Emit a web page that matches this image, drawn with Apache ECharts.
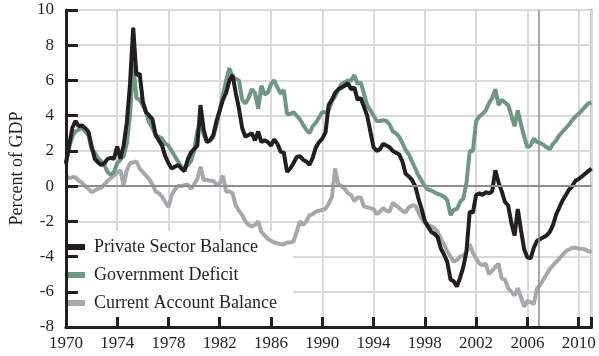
<!DOCTYPE html>
<html><head><meta charset="utf-8">
<script src="https://cdn.jsdelivr.net/npm/echarts/dist/echarts.min.js"></script>
<style>html,body{margin:0;padding:0;background:#fff}#c{width:599px;height:356px}</style>
</head><body><div id="c"></div>
<script>
// Quarterly observations starting 1970 Q1
const startYear = 1970;
const stepYears = 0.25;
const seriesNames = ['Private Sector Balance', 'Government Deficit', 'Current Account Balance'];
const privateSector = [
  1.3, 2.3, 3.3, 3.7,   3.4, 3.45, 3.3, 3.1,   2.3, 1.55, 1.35, 1.2,   1.3, 1.55, 1.6, 1.55,
  2.25, 1.55, 2.3, 3.6,   5.8, 9.0, 6.3, 6.4,   4.8, 4.2, 4.0, 3.8,   2.9, 2.6, 2.3, 1.7,
  1.3, 1.0, 1.1, 1.2,   1.0, 0.85, 1.5, 1.9,   2.1, 2.3, 4.6, 3.2,   2.5, 2.6, 2.9, 3.7,
  4.3, 4.9, 5.3, 6.0,   6.3, 5.3, 4.4, 3.3,   2.8, 2.9, 3.0, 2.6,   3.1, 2.5, 2.6, 2.5,
  2.3, 2.65, 2.4, 1.95,   1.9, 0.8, 1.0, 1.3,   1.65, 1.7, 1.5, 1.4,   1.2, 1.6, 2.2, 2.5,
  2.7, 3.05, 4.6, 4.9,   5.3, 5.5, 5.6, 5.7,   5.85, 5.5, 5.6, 4.9,   5.0, 4.5, 4.0, 3.1,
  2.2, 2.0, 2.1, 2.4,   2.3, 2.2, 2.0, 1.9,   1.8, 1.4, 0.7, 0.55,   0.35, 0.0, -0.7, -1.3,
  -2.0, -2.3, -2.6, -2.7,   -2.9, -3.55, -3.9, -4.3,   -5.3, -5.4, -5.7, -5.2,   -4.6, -3.7, -1.45, -1.5,
  -0.5, -0.4, -0.5, -0.35,   -0.4, -0.3, 0.9, 0.2,   -0.3, -0.9, -1.1, -2.1,   -2.8, -1.3, -2.5, -3.6,
  -4.05, -4.1, -3.5, -3.1,   -3.0, -2.9, -2.8, -2.6,   -2.2, -1.6, -1.2, -0.8,   -0.5, -0.2, 0.0, 0.3,
  0.4, 0.55, 0.7, 0.85,   1.0
];
const governmentDeficit = [
  1.2, 2.2, 2.8, 3.1,   3.2, 3.3, 3.1, 2.9,   2.1, 1.9, 1.6, 1.4,   1.2, 0.8, 0.65, 0.8,
  1.3, 1.5, 1.7, 2.4,   4.0, 7.0, 5.0, 4.9,   4.6, 4.2, 3.6, 3.3,   2.9, 2.8, 2.7, 2.4,
  2.3, 2.0, 1.7, 1.4,   1.1, 1.0, 1.2, 1.4,   2.0, 3.1, 3.6, 2.9,   2.5, 2.6, 2.8, 3.5,
  4.3, 5.2, 6.0, 6.7,   6.2, 6.1, 6.0, 4.9,   4.7, 5.0, 5.5, 5.3,   4.4, 5.7, 5.2, 5.3,
  5.8, 6.0, 5.6, 5.25,   5.45, 4.1, 4.1, 4.2,   4.0, 3.8, 3.5, 3.2,   3.0, 3.4, 3.6, 3.9,
  4.2, 4.2, 4.3, 4.8,   5.1, 5.45, 5.8, 5.9,   6.0, 6.0, 6.3, 5.8,   5.9, 5.25, 4.6, 4.3,
  4.0, 3.7, 3.7, 3.75,   3.7, 3.5, 3.1, 3.0,   2.8, 2.45, 2.05, 1.8,   1.4, 1.0, 0.6, 0.3,
  0.0, -0.2, -0.25, -0.35,   -0.45, -0.5, -0.6, -0.8,   -1.65, -1.35, -1.3, -0.9,   -0.7, 0.2, 2.0, 2.0,
  3.7, 3.95, 4.1, 4.3,   4.7, 5.0, 5.5, 4.6,   4.9, 4.75, 4.6, 4.0,   3.4, 4.3, 3.5, 2.8,
  2.2, 2.3, 2.7, 2.5,   2.45, 2.35, 2.2, 2.1,   2.4, 2.6, 2.9, 3.1,   3.3, 3.5, 3.75, 3.95,
  4.1, 4.3, 4.5, 4.7,   4.75
];
const currentAccount = [
  0.6, 0.45, 0.5, 0.5,   0.3, 0.2, 0.0, -0.15,   -0.35, -0.25, -0.15, -0.1,   0.1, 0.3, 0.45, 0.6,
  0.75, 0.9, 0.05, 0.9,   1.3, 1.35, 1.4, 1.0,   0.8, 0.6, 0.4, 0.1,   -0.3, -0.4, -0.6, -0.9,
  -1.2, -0.5, -0.2, 0.0,   0.0, 0.05, 0.1, -0.15,   0.1, 0.4, 1.1, 0.35,   0.35, 0.3, 0.3, 0.1,
  0.15, 0.6, -0.3, -0.3,   -0.4, -1.1, -1.4, -1.65,   -2.0, -2.2, -2.3, -2.2,   -2.0, -2.6, -2.8, -3.0,
  -3.1, -3.2, -3.25, -3.3,   -3.3, -3.2, -3.2, -3.15,   -2.6, -2.0, -2.2, -2.0,   -1.65, -1.6, -1.45, -1.4,
  -1.35, -1.3, -1.0, -0.6,   1.0, 0.1, 0.0, -0.15,   -0.4, -0.5, -0.85, -0.65,   -0.65, -1.15, -1.2, -1.25,
  -1.3, -1.6, -1.45, -1.25,   -1.4, -1.45, -0.95, -1.1,   -1.25, -1.4, -1.5, -1.2,   -1.1, -1.1, -1.5, -1.85,
  -2.1, -2.2, -2.3, -2.4,   -2.6, -3.0, -3.3, -3.7,   -4.0, -4.3, -4.2, -4.0,   -3.95, -3.7, -3.3, -3.8,
  -4.1, -4.4, -4.5, -4.4,   -5.0, -4.8, -4.6, -4.4,   -5.25, -5.3, -5.8, -6.0,   -6.2, -5.8, -6.3, -6.85,
  -6.5, -6.6, -6.7, -5.8,   -5.6, -5.3, -5.0, -4.7,   -4.5, -4.3, -4.1, -3.9,   -3.7, -3.6, -3.5, -3.5,
  -3.55, -3.55, -3.6, -3.7,   -3.75
];
const xTickLabels = [1970, 1974, 1978, 1982, 1986, 1990, 1994, 1998, 2002, 2006, 2010];
const yTickLabels = [-8, -6, -4, -2, 0, 2, 4, 6, 8, 10];
const markerYear = 2006.9;

const FONT = 'Liberation Serif';
const INK = '#231f20';
const colors = { priv: '#231f20', gov: '#6f9784', cur: '#a7a8ab' };
const toPairs = arr => arr.map((v, i) => [startYear + i * stepYears, v]);

const xBase = { type: 'value', min: 1970, max: 2011, interval: 4 };
const yBase = { type: 'value', min: -8, max: 10, interval: 2 };

const chart = echarts.init(document.getElementById('c'), null, { renderer: 'canvas' });
chart.setOption({
  animation: false,
  backgroundColor: '#fff',
  grid: { left: 59, right: 7.5, top: 10, bottom: 29, show: true, borderColor: INK, borderWidth: 1.5 },
  legend: {
    data: seriesNames,
    orient: 'vertical', left: 60, top: 231, z: 1,
    backgroundColor: '#fff', padding: [6, 16, 6, 8],
    icon: 'rect', itemWidth: 17, itemHeight: 6, itemGap: 8,
    textStyle: { fontFamily: FONT, fontSize: 18, color: INK, lineHeight: 20, padding: [0, 0, 0, 4] }
  },
  xAxis: [
    Object.assign({}, xBase, {
      z: 5,
      axisLine: { show: true, onZero: false, lineStyle: { color: INK, width: 3 } },
      axisTick: { show: true, inside: true, length: 10, lineStyle: { color: INK, width: 3 } },
      axisLabel: { fontFamily: FONT, fontSize: 17, color: INK, margin: 8,
        formatter: v => (xTickLabels.includes(v) ? String(v) : ''), showMaxLabel: true, hideOverlap: false },
      splitLine: { show: false }
    }),
    Object.assign({}, xBase, {
      z: 0, axisLine: { show: false }, axisTick: { show: false }, axisLabel: { show: false },
      splitLine: { show: true, lineStyle: { color: '#dadada', width: 2 } }
    })
  ],
  yAxis: [
    Object.assign({}, yBase, {
      z: 5,
      name: 'Percent of GDP', nameLocation: 'middle', nameGap: 36,
      nameTextStyle: { fontFamily: FONT, fontSize: 18, color: INK },
      axisLine: { show: true, onZero: false, lineStyle: { color: INK, width: 3 } },
      axisTick: { show: true, inside: true, length: 12, lineStyle: { color: INK, width: 3 } },
      axisLabel: { fontFamily: FONT, fontSize: 17, color: INK, margin: 12,
        formatter: v => (yTickLabels.includes(v) ? String(v) : '') },
      splitLine: { show: false }
    }),
    Object.assign({}, yBase, {
      z: 0, axisLine: { show: false }, axisTick: { show: false }, axisLabel: { show: false },
      splitLine: { show: true, lineStyle: { color: '#dadada', width: 2 } }
    })
  ],
  series: [
    {
      name: 'refs', type: 'line', data: [], z: 1, silent: true,
      markLine: {
        silent: true, symbol: 'none', label: { show: false },
        data: [
          { yAxis: 0, lineStyle: { color: '#8e8e90', width: 2, type: 'solid' } },
          { xAxis: markerYear, lineStyle: { color: '#8e8e90', width: 1.5, type: 'solid' } }
        ]
      }
    },
    { name: seriesNames[2], type: 'line', data: toPairs(currentAccount), showSymbol: false, z: 2,
      lineStyle: { color: colors.cur, width: 4 }, itemStyle: { color: colors.cur } },
    { name: seriesNames[1], type: 'line', data: toPairs(governmentDeficit), showSymbol: false, z: 3,
      lineStyle: { color: colors.gov, width: 4 }, itemStyle: { color: colors.gov } },
    { name: seriesNames[0], type: 'line', data: toPairs(privateSector), showSymbol: false, z: 4,
      lineStyle: { color: colors.priv, width: 4 }, itemStyle: { color: colors.priv } }
  ]
});
</script></body></html>
